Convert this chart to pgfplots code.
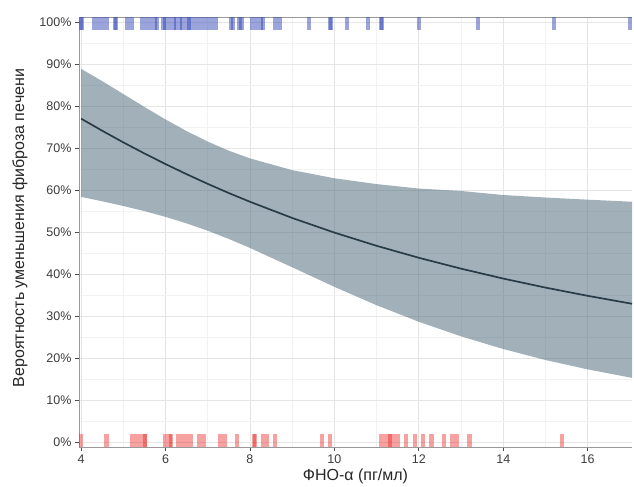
\documentclass[border=0pt]{standalone}
\usepackage{pgfplots}
\pgfplotsset{compat=1.18}
\usepackage{pgfplotstable}
\usepgfplotslibrary{fillbetween}
\usepackage{fontspec}
\setmainfont{Liberation Sans}
\definecolor{band}{RGB}{70,100,115}
\definecolor{fitline}{RGB}{40,60,72}
\definecolor{rugblue}{RGB}{55,75,185}
\definecolor{rugred}{RGB}{235,30,30}
\definecolor{tickcol}{RGB}{60,60,60}

\pgfplotstableread{
x mean lo hi
4.0 0.7699 0.5837 0.8886
4.5 0.7411 0.5731 0.8592
5.0 0.7134 0.5619 0.8286
5.5 0.6870 0.5497 0.7978
6.0 0.6617 0.5360 0.7680
6.5 0.6376 0.5205 0.7403
7.0 0.6146 0.5030 0.7153
7.5 0.5927 0.4834 0.6936
8.0 0.5720 0.4620 0.6753
9.0 0.5334 0.4160 0.6473
10.0 0.4986 0.3694 0.6280
11.0 0.4671 0.3256 0.6141
12.0 0.4386 0.2862 0.6035
13.0 0.4127 0.2515 0.5977
14.0 0.3891 0.2213 0.5881
15.0 0.3676 0.1952 0.5821
16.0 0.3480 0.1728 0.5770
17.05 0.3291 0.1526 0.5721
}\fit

\pgfplotstableread{
x y
4.0 1
4.02 1
4.3 1
4.4 1
4.5 1
4.6 1
4.8 1
4.82 1
5.1 1
5.2 1
5.45 1
5.55 1
5.65 1
5.75 1
5.8 1
5.95 1
6.0 1
6.1 1
6.2 1
6.25 1
6.35 1
6.4 1
6.5 1
6.55 1
6.6 1
6.7 1
6.8 1
6.9 1
7.0 1
7.1 1
7.2 1
7.55 1
7.6 1
7.75 1
7.8 1
8.05 1
8.15 1
8.25 1
8.3 1
8.6 1
8.7 1
9.4 1
9.9 1
9.92 1
10.3 1
10.8 1
11.1 1
11.12 1
12.0 1
13.4 1
15.2 1
17.0 1
}\rugone

\pgfplotstableread{
x y
4.0 0
4.6 0
5.2 0
5.3 0
5.4 0
5.5 0
5.52 0
6.0 0
6.1 0
6.12 0
6.3 0
6.4 0
6.5 0
6.6 0
6.8 0
6.9 0
7.3 0
7.4 0
7.7 0
8.1 0
8.12 0
8.3 0
8.4 0
8.6 0
9.7 0
9.9 0
11.1 0
11.2 0
11.3 0
11.32 0
11.4 0
11.5 0
11.7 0
11.9 0
12.1 0
12.3 0
12.6 0
12.8 0
12.9 0
13.2 0
15.4 0
}\rugzero

\begin{document}
\begin{tikzpicture}
\begin{axis}[
  scale only axis,
  width=553pt, height=430pt,
  xmin=3.95, xmax=17.05,
  ymin=-0.012, ymax=1.012,
  axis x line*=box, axis y line*=left,
  axis line style={draw=gray!80, line width=0.9pt},
  xtick={4,6,8,10,12,14,16},
  ytick={0,0.1,0.2,0.3,0.4,0.5,0.6,0.7,0.8,0.9,1},
  yticklabels={0\%,10\%,20\%,30\%,40\%,50\%,60\%,70\%,80\%,90\%,100\%},
  minor x tick num=1, minor y tick num=1,
  minor tick length=0pt,
  tick align=outside, major tick length=4pt,
  xtick pos=bottom, ytick pos=left,
  tick style={draw=black!70, line width=0.8pt},
  grid=both,
  major grid style={draw=gray!20, line width=0.8pt},
  minor grid style={draw=gray!10, line width=0.6pt},
  tick label style={font=\fontsize{12.5}{14}\selectfont, text=tickcol},
  /pgf/number format/assume math mode=true,
  xlabel={ФНО-α (пг/мл)},
  ylabel={Вероятность уменьшения фиброза печени},
  every axis x label/.style={at={(axis description cs:0.5,-0.0674)}, anchor=center, font=\fontsize{16}{18}\selectfont, text=black!85},
  every axis y label/.style={at={(axis description cs:-0.107,0.509)}, rotate=90, anchor=center, font=\fontsize{16}{18}\selectfont, text=black!85},
]
\addplot[name path=upper, draw=none, forget plot] table[x=x, y=hi]{\fit};
\addplot[name path=lower, draw=none, forget plot] table[x=x, y=lo]{\fit};
\addplot[fill=band, fill opacity=0.5, draw=none] fill between[of=upper and lower];
\addplot[draw=fitline, line width=1.7pt, mark=none] table[x=x, y=mean]{\fit};
\addplot[draw=rugblue, opacity=0.5, line width=4.2pt, mark=none,
  quiver={u=0, v=-0.032}] table[x=x, y expr=\thisrow{y}+0.012]{\rugone};
\addplot[draw=rugred, opacity=0.42, line width=4.2pt, mark=none,
  quiver={u=0, v=0.032}] table[x=x, y expr=\thisrow{y}-0.012]{\rugzero};
\end{axis}
\path ([xshift=-79pt,yshift=-38pt]current axis.south west) rectangle ([xshift=2pt,yshift=17pt]current axis.north east);
\end{tikzpicture}
\end{document}
